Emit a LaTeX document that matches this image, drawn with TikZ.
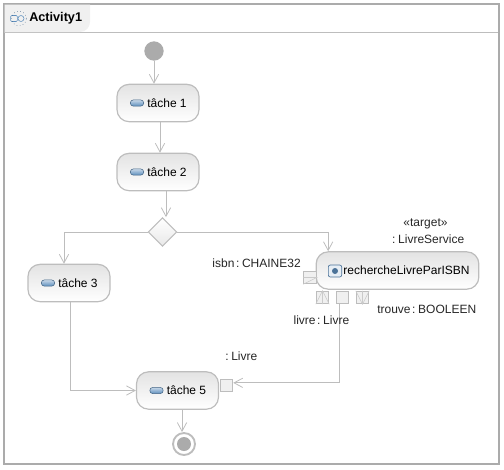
\documentclass[tikz,border=0pt]{standalone}
\usepackage{fontspec}
\setmainfont{Liberation Sans}
\usetikzlibrary{shapes.geometric,arrows.meta}
\definecolor{linegray}{HTML}{BDBDBD}
\definecolor{framegray}{HTML}{ABABAB}
\definecolor{pinfill}{HTML}{F0F0F0}
\definecolor{iconblue}{HTML}{5E8FBE}
\newcommand{\labfont}{\fontsize{9}{11}\selectfont\setlength{\spaceskip}{0.13em}}
\tikzset{
    task/.style={draw=linegray, line width=0.9pt, rounded corners=9pt, minimum width=61.5pt, minimum height=28pt,
        top color=gray!22, bottom color=white, inner sep=0pt, font=\fontsize{9}{11}\selectfont},
    pin/.style={draw=linegray, fill=pinfill, line width=0.6pt, minimum size=9.5pt, inner sep=0pt},
    pinmark/.style={draw=linegray!80, line width=0.45pt},
    pill/.style={draw=iconblue!70!black, rounded corners=2.2pt, minimum width=10pt, minimum height=4.6pt, inner sep=0pt,
        top color=iconblue!35, bottom color=iconblue, line width=0.4pt},
    lab/.style={inner sep=0pt, font=\labfont, text=black!85},
    flow/.style={draw=linegray, line width=0.75pt, -{Straight Barb[length=6.5pt, width=7pt, line width=0.6pt]}},
}
\begin{document}
\begin{tikzpicture}[x=0.75pt, y=-0.75pt]
    \useasboundingbox (0,0) rectangle (504,469);
    % frame and title tab
    \draw[framegray, line width=1.5pt] (3.5,3.5) rectangle (498.5,463.5);
    \draw[linegray, line width=0.75pt] (4,32.5) -- (498,32.5);
    \fill[gray!12] (4.5,4.5) -- (90,4.5) -- (90,22) .. controls (90,27) and (86,32) .. (80,32) -- (4.5,32) -- cycle;
    \node[draw=iconblue, rounded corners=0.8pt, minimum width=5pt, minimum height=4.5pt, inner sep=0pt, line width=0.4pt] (tabbox) at (14,18.5) {};
    \node[draw=iconblue!70!black, dotted, circle, minimum size=11pt, inner sep=0pt, line width=0.4pt] (tabring) at (19,18.5) {};
    \node[draw=iconblue, circle, minimum size=4.5pt, inner sep=0pt, line width=0.4pt] (tabdot) at (21,18.5) {};
    \node[inner sep=0pt, anchor=west, font=\fontsize{9.5}{11}\selectfont\bfseries] (title) at (29,18) {Activity1};
    % start and end
    \node[circle, fill=framegray, minimum size=14.5pt, inner sep=0pt] (start) at (154,51) {};
    \node[circle, draw=linegray, line width=1.4pt, fill=white, minimum size=16.5pt, inner sep=0pt] (end) at (184,444) {};
    \node[circle, fill=framegray, minimum size=10.5pt, inner sep=0pt] (endin) at (184,444) {};
    % actions
    \node[task] (t1) at (158,103) {\hspace*{13.5pt}tâche 1};
    \node[task] (t2) at (158,172) {\hspace*{13.5pt}tâche 2};
    \node[task] (t3) at (69,283) {\hspace*{13.5pt}tâche 3};
    \node[task] (t5) at (177.5,390.5) {\hspace*{13.5pt}tâche 5};
    \node[task, minimum width=122pt] (call) at (397.5,270.5) {\hspace*{13.5pt}rechercheLivreParISBN};
    \node[pill] (i1) at ([xshift=-15.75pt]t1.center) {};
    \node[pill] (i2) at ([xshift=-15.75pt]t2.center) {};
    \node[pill] (i3) at ([xshift=-15.75pt]t3.center) {};
    \node[pill] (i5) at ([xshift=-15.75pt]t5.center) {};
    \node[draw=iconblue!80!black, fill=iconblue!15, rounded corners=1.5pt, minimum width=10pt, minimum height=9pt, inner sep=0pt, line width=0.5pt] (icall) at (335,271) {};
    \node[circle, fill=iconblue!80!black, minimum size=4.5pt, inner sep=0pt] (icalldot) at (335,271) {};
    % decision
    \node[diamond, draw=linegray, line width=0.75pt, top color=white, bottom color=gray!18, minimum size=21.5pt, inner sep=0pt] (dec) at (162.5,232) {};
    % pins
    \node[pin] (pisbn) at (310,277.5) {};
    \node[pin] (pup) at (322.5,297.5) {};
    \node[pin] (plivre) at (342.5,297.5) {};
    \node[pin] (pdown) at (362.5,297.5) {};
    \node[pin] (pin5) at (226.5,385.5) {};
    % marks inside the pins
    \draw[pinmark] (pisbn.west) -- (pisbn.east) -- (pisbn.south west);
    \draw[pinmark] (pup.north) -- (pup.south) (pup.south west) -- (pup.north) -- (pup.south east);
    \draw[pinmark] (pdown.north) -- (pdown.south) (pdown.north west) -- (pdown.south) -- (pdown.north east);
    % flows
    \coordinate (t1out) at ([xshift=1.5pt]t1.south);
    \coordinate (t2out) at ([xshift=6pt]t2.south);
    \coordinate (t3out) at ([xshift=1pt]t3.south);
    \coordinate (t3top) at ([xshift=-3.75pt]t3.north);
    \coordinate (t5out) at ([xshift=3.4pt]t5.south);
    \coordinate (calltop) at ([xshift=-52pt]call.north);
    \coordinate (livreout) at ([xshift=-1.9pt]plivre.south);
    \coordinate (pin5in) at ([yshift=2pt]pin5.east);
    \draw[flow] (start) -- (start |- t1.north);
    \draw[flow] (t1out) -- (t1out |- t2.north);
    \draw[flow] (t2out) -- (t2out |- dec.north);
    \draw[flow] (dec.west) -| (t3top);
    \draw[flow] (dec.east) -| (calltop);
    \draw[flow] (t3out) |- (t5.west);
    \draw[flow] (livreout) |- (pin5in);
    \draw[flow] (t5out) -- (t5out |- end.north);
    % labels
    \node[lab] (ltarget) at (425.5,224) {«target»};
    \node[lab, anchor=east] (lservice) at (464.5,239) {: LivreService};
    \node[lab, anchor=east] (lisbn) at (301,263.5) {isbn : CHAINE32};
    \node[lab, anchor=west] (ltrouve) at (377,309) {trouve : BOOLEEN};
    \node[lab, anchor=east] (llivre) at (349.5,320.5) {livre : Livre};
    \node[lab, anchor=west] (lout) at (225,356.5) {: Livre};
\end{tikzpicture}
\end{document}
